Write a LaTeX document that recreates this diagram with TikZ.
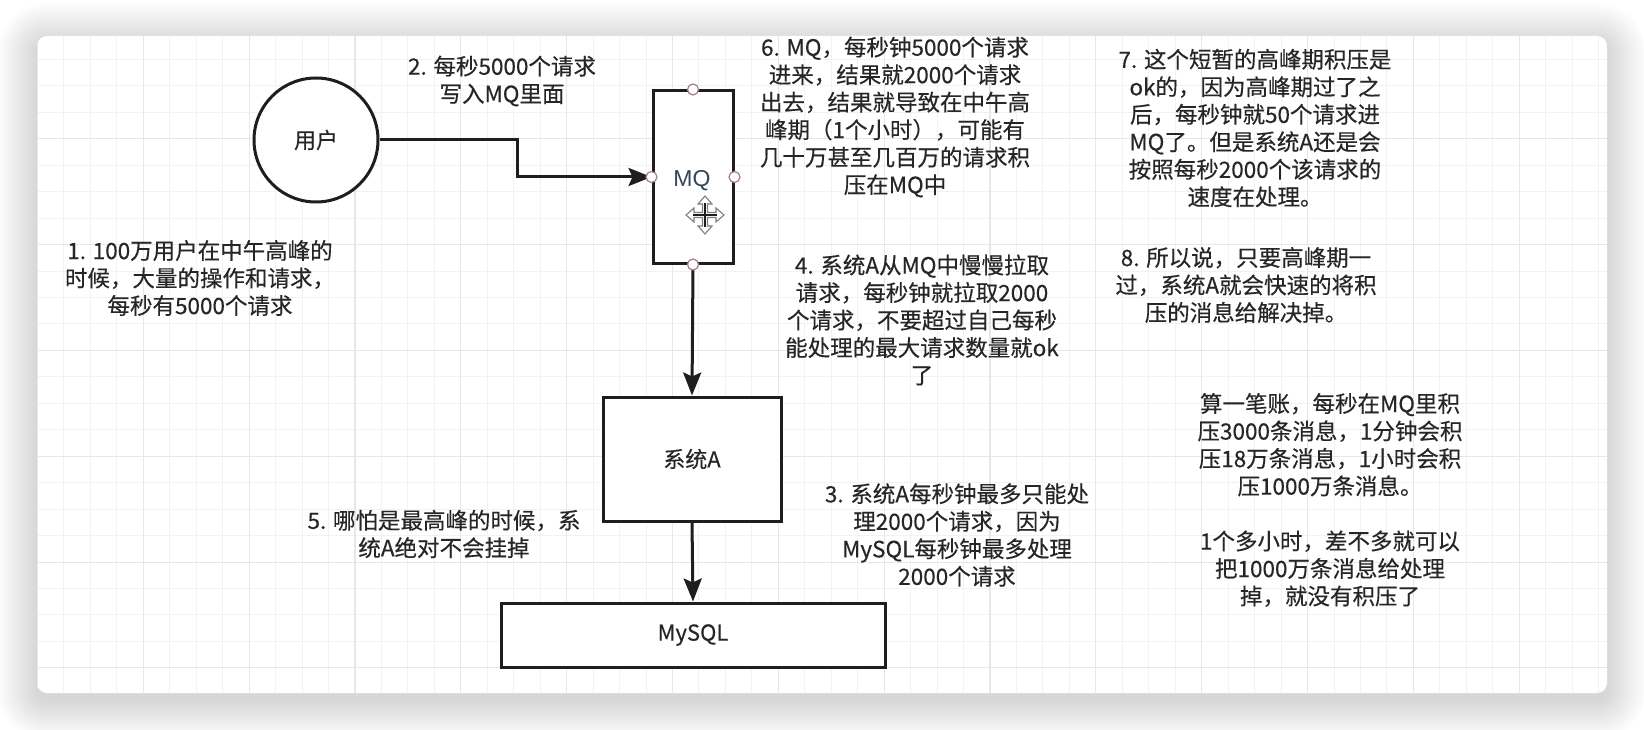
\documentclass[tikz,border=0pt]{standalone}
\usepackage{fontspec}
\setmainfont{Noto Sans CJK SC}[FakeBold=0.35]
\newfontfamily\arialf{Liberation Sans}
\usetikzlibrary{arrows.meta}
\definecolor{ink}{HTML}{1E1E1E}
\definecolor{txt}{HTML}{262626}
\definecolor{gminor}{HTML}{F2F2F2}
\definecolor{gmajor}{HTML}{E7E7E7}
\definecolor{cptc}{HTML}{A87C86}
\definecolor{mqc}{HTML}{34465A}
\begin{document}
\begin{tikzpicture}[x=1pt,y=-1pt,
  box/.style={draw=ink, line width=3pt, fill=white, inner sep=0pt, text=txt, font=\fontsize{22}{22}\selectfont},
  lbl/.style={font=\fontsize{22.5}{27.5}\selectfont, text=txt, align=center, inner sep=0pt},
  conn/.style={draw=ink, line width=3pt, -{Stealth[length=23pt,width=18pt,inset=4pt]}},
  cpt/.style={circle, draw=cptc, line width=1.2pt, fill=white, minimum size=11pt, inner sep=0pt},
]
\useasboundingbox (0,0) rectangle (1644,730);
\fill[white] (0,0) rectangle (1644,730);
% shadow
\foreach \i in {1,...,40} {
  \pgfmathsetmacro\rr{10+\i}
  \fill[black, opacity=0.0035, rounded corners=\rr pt] (37-\i,36-\i+7) rectangle (1607+\i,693+\i+7);
}
% card
\fill[white, rounded corners=10pt] (37,36) rectangle (1607,693);
\begin{scope}
  \clip[rounded corners=10pt] (37,36) rectangle (1607,693);
  \foreach \k in {-4,...,55} {
    \pgfmathsetmacro\xx{143.3+\k*26.46}
    \draw[gminor, line width=1pt] (\xx,36) -- (\xx,693);
  }
  \foreach \k in {-3,...,20} {
    \pgfmathsetmacro\yy{138.7+\k*26.46}
    \draw[gminor, line width=1pt] (37,\yy) -- (1607,\yy);
  }
  \foreach \k in {-1,...,14} {
    \pgfmathsetmacro\xx{143.3+\k*105.84}
    \draw[gmajor, line width=1.1pt] (\xx,36) -- (\xx,693);
  }
  \foreach \k in {-1,...,5} {
    \pgfmathsetmacro\yy{138.7+\k*105.84}
    \draw[gmajor, line width=1.1pt] (37,\yy) -- (1607,\yy);
  }
\end{scope}

% nodes
\node[circle, draw=ink, line width=3pt, fill=white, minimum size=124pt, inner sep=0pt, text=txt, font=\fontsize{22}{22}\selectfont] (user) at (316,140) {用户};
\node[box, minimum width=80pt, minimum height=172pt] (mq) at (693,177) {};
\node[text=mqc, font=\arialf\fontsize{23}{23}\selectfont, inner sep=0pt] (mqlabel) at (692,181) {MQ};
\node[box, minimum width=178pt, minimum height=124pt] (sysa) at (692,459) {系统A};
\node[box, minimum width=384pt, minimum height=64pt] (mysql) at (693,635) {MySQL};

% connectors
\draw[conn] (user.east) -- ++(138,0) |- (mq.west);
\draw[conn] (mq.south) -- (sysa.north);
\draw[conn] (sysa.south) -- (mysql.north);

% connection points
\node[cpt] (cpn) at (mq.north) {};
\node[cpt] (cps) at (mq.south) {};
\node[cpt] (cpw) at (mq.west) {};
\node[cpt] (cpe) at (mq.east) {};

% move cursor
\begin{scope}[shift={(705,215)}]
\draw[draw=black!50, fill=white, line width=1.1pt, line join=miter] (0,-19) -- (7,-11) -- (2.5,-11) -- (2.5,-2.5) -- (11,-2.5) -- (11,-7) -- (19,0) -- (11,7) -- (11,2.5) -- (2.5,2.5) -- (2.5,11) -- (7,11) -- (0,19) -- (-7,11) -- (-2.5,11) -- (-2.5,2.5) -- (-11,2.5) -- (-11,7) -- (-19,0) -- (-11,-7) -- (-11,-2.5) -- (-2.5,-2.5) -- (-2.5,-11) -- (-7,-11) -- cycle;
\draw[ink, line width=1.4pt] (0,-12) -- (0,12) (-12,0) -- (12,0);
\end{scope}

% texts
\node[lbl] (t1) at (200,278) {1. 100万用户在中午高峰的\\时候，大量的操作和请求，\\每秒有5000个请求};
\node[lbl] (t2) at (502,81) {2. 每秒5000个请求\\写入MQ里面};
\node[lbl] (t6) at (895,117) {6. MQ，每秒钟5000个请求\\进来，结果就2000个请求\\出去，结果就导致在中午高\\峰期（1个小时），可能有\\几十万甚至几百万的请求积\\压在MQ中};
\node[lbl] (t7) at (1255,128) {7. 这个短暂的高峰期积压是\\ok的，因为高峰期过了之\\后，每秒钟就50个请求进\\MQ了。但是系统A还是会\\按照每秒2000个该请求的\\速度在处理。};
\node[lbl] (t8) at (1246,285) {8. 所以说，只要高峰期一\\过，系统A就会快速的将积\\压的消息给解决掉。};
\node[lbl] (t4) at (922,320) {4. 系统A从MQ中慢慢拉取\\请求，每秒钟就拉取2000\\个请求，不要超过自己每秒\\能处理的最大请求数量就ok\\了};
\node[lbl] (t5) at (444,534) {5. 哪怕是最高峰的时候，系\\统A绝对不会挂掉};
\node[lbl] (t3) at (957,535) {3. 系统A每秒钟最多只能处\\理2000个请求，因为\\MySQL每秒钟最多处理\\2000个请求};
\node[lbl] (t9) at (1330,500) {算一笔账，每秒在MQ里积\\压3000条消息，1分钟会积\\压18万条消息，1小时会积\\压1000万条消息。\\[27.5pt]1个多小时，差不多就可以\\把1000万条消息给处理\\掉，就没有积压了};
\end{tikzpicture}
\end{document}
